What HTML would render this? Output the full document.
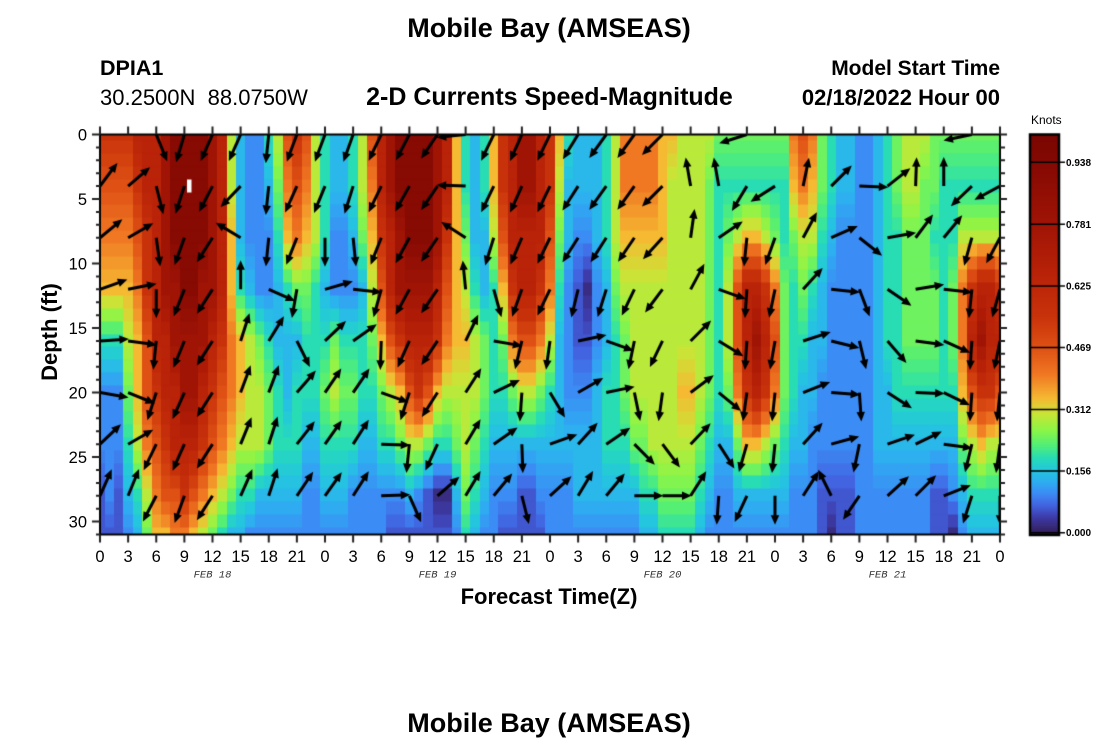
<!DOCTYPE html>
<html><head><meta charset="utf-8">
<style>
html,body{margin:0;padding:0;background:#fff;}
#wrap{position:relative;width:1100px;height:750px;overflow:hidden;background:#fff;}
canvas{position:absolute;left:0;top:0;}
svg{position:absolute;left:0;top:0;}
text{font-family:"Liberation Sans",Arial,sans-serif;fill:#000;}
.b{font-weight:bold;}
.xt{font-size:16.5px;text-anchor:middle;}
.yt{font-size:16.5px;text-anchor:end;}
.feb{font-family:"Liberation Mono",monospace;font-style:italic;font-size:10.5px;fill:#333;text-anchor:middle;}
.cb{font-size:10px;font-weight:bold;}
</style></head><body>
<div id="wrap">
<canvas id="c" width="1100" height="750"></canvas>
<svg width="1100" height="750" viewBox="0 0 1100 750">
<text class="b" x="549" y="37" font-size="27" text-anchor="middle">Mobile Bay (AMSEAS)</text>
<text class="b" x="100" y="75" font-size="21.5">DPIA1</text>
<text x="100" y="105" font-size="22" style="white-space:pre">30.2500N  88.0750W</text>
<text class="b" x="549.5" y="105" font-size="25" text-anchor="middle">2-D Currents Speed-Magnitude</text>
<text class="b" x="1000" y="75" font-size="21" text-anchor="end">Model Start Time</text>
<text class="b" x="1000" y="105" font-size="22" text-anchor="end">02/18/2022 Hour 00</text>
<text x="1031" y="124" font-size="12">Knots</text>
<text class="b" font-size="22" text-anchor="middle" transform="translate(57,332) rotate(-90)">Depth (ft)</text>
<text class="b" x="549" y="604" font-size="22" text-anchor="middle">Forecast Time(Z)</text>
<text class="b" x="549" y="732" font-size="27" text-anchor="middle">Mobile Bay (AMSEAS)</text>

<text class="yt" x="87" y="140.5">0</text>
<text class="yt" x="87" y="205">5</text>
<text class="yt" x="87" y="269.5">10</text>
<text class="yt" x="87" y="334">15</text>
<text class="yt" x="87" y="398.5">20</text>
<text class="yt" x="87" y="463">25</text>
<text class="yt" x="87" y="527.5">30</text>

<text class="xt" x="100" y="562">0</text>
<text class="xt" x="128.1" y="562">3</text>
<text class="xt" x="156.25" y="562">6</text>
<text class="xt" x="184.4" y="562">9</text>
<text class="xt" x="212.5" y="562">12</text>
<text class="xt" x="240.6" y="562">15</text>
<text class="xt" x="268.75" y="562">18</text>
<text class="xt" x="296.9" y="562">21</text>
<text class="xt" x="325" y="562">0</text>
<text class="xt" x="353.1" y="562">3</text>
<text class="xt" x="381.25" y="562">6</text>
<text class="xt" x="409.4" y="562">9</text>
<text class="xt" x="437.5" y="562">12</text>
<text class="xt" x="465.6" y="562">15</text>
<text class="xt" x="493.75" y="562">18</text>
<text class="xt" x="521.9" y="562">21</text>
<text class="xt" x="550" y="562">0</text>
<text class="xt" x="578.1" y="562">3</text>
<text class="xt" x="606.25" y="562">6</text>
<text class="xt" x="634.4" y="562">9</text>
<text class="xt" x="662.5" y="562">12</text>
<text class="xt" x="690.6" y="562">15</text>
<text class="xt" x="718.75" y="562">18</text>
<text class="xt" x="746.9" y="562">21</text>
<text class="xt" x="775" y="562">0</text>
<text class="xt" x="803.1" y="562">3</text>
<text class="xt" x="831.25" y="562">6</text>
<text class="xt" x="859.4" y="562">9</text>
<text class="xt" x="887.5" y="562">12</text>
<text class="xt" x="915.6" y="562">15</text>
<text class="xt" x="943.75" y="562">18</text>
<text class="xt" x="971.9" y="562">21</text>
<text class="xt" x="1000" y="562">0</text>

<text class="feb" x="212.5" y="577.5">FEB 18</text>
<text class="feb" x="437.5" y="577.5">FEB 19</text>
<text class="feb" x="662.5" y="577.5">FEB 20</text>
<text class="feb" x="887.5" y="577.5">FEB 21</text>

<text class="cb" x="1066" y="166">0.938</text>
<text class="cb" x="1066" y="228">0.781</text>
<text class="cb" x="1066" y="289.5">0.625</text>
<text class="cb" x="1066" y="351">0.469</text>
<text class="cb" x="1066" y="413">0.312</text>
<text class="cb" x="1066" y="474.5">0.156</text>
<text class="cb" x="1066" y="536">0.000</text>
</svg>
</div>
<script>
(function(){
const cv=document.getElementById('c'),ctx=cv.getContext('2d');
const X0=100,X1=1000,Y0=134.5,Y1=534.5,PH=9.375,PF=400/31;
const cols=["kjiheccbb","kjihecccb","kjiheccbb","kjihgfedc","lkjihhged","llkkjjigf","lllllkjih","mmmmllkjh","nnnmmllji","nnnnmmlki",
"nnnnmmljh","nnnmmlkig","mmmmlkjhf","llllkjige","gghhiihfd","dddehhged","cccdgggec","ccccfggdc","edcceffdc","gfeddeedc",
"jiheddedc","kjifdeedc","jihfeedcc","gggeeedcc","eeedefedc","ddccfgedc","ddccefedc","eedcefecc","ggfdeedcc","jihgfedcc",
"llkjhfecc","mmlljgecb","nnmmkhfcb","nnnmljgdb","nnnmlkgcb","nnnmljfbb","mmmlkheab","llkjigeab","hhhhhgfdc","eefghggfe",
"dddeggfed","eeddffedc","hhgeeedcc","kkjhfedcb","lllkifdcb","mmlljgdbb","mmlljgdbb","lllkifdcb","kkjigedcc","hgfedddcc",
"eddcccdcc","ddcbbcddc","ddcabcddc","dddccdddc","eeeddeedc","gggfeeedc","iihgffedc","iihgggfdc","iihgggfed","iihgggged",
"hhhggggfe","hggggggfe","ggggghgfe","ggggghgfe","ggggggfed","gfffffedc","feeeeedcc","fefggfdcc","fegjjifdc","fehllkhdc",
"fehlmlhdc","fegklkgdc","fefijifdc","feefffedc","ihfeeedcc","jigfeddcc","ihgeddccc","ffeddccbb","eedccccba","ddcccccbb",
"ddcccccbb","ccccccccc","ccccccccc","dddddddcc","eeeeeddcc","ffeeeedcc","ggfffedcc","ggfffedcc","gffffedcc","ffeffedbb",
"feeeeedbb","feeffedca","fegiihfdc","fegkljged","feglmkhed","fegllkged","fegkljged"];
const sv={a:0.02,b:0.06,c:0.10,d:0.14,e:0.19,f:0.24,g:0.29,h:0.34,i:0.40,j:0.47,k:0.55,l:0.65,m:0.78,n:0.92};
const rowD=[0,4,8,12,16,20,24,28,31];
function val(i,d){const s=cols[i];let k=0;while(k<rowD.length-2&&d>rowD[k+1])k++;const t=(d-rowD[k])/(rowD[k+1]-rowD[k]);return sv[s[k]]*(1-t)+sv[s[k+1]]*t;}
const ST=[[0,50,30,90],[0.04,62,60,170],[0.07,66,100,225],[0.1,60,140,245],[0.13,45,175,240],[0.16,35,200,220],[0.19,40,220,180],[0.22,80,238,120],[0.26,140,245,70],[0.3,200,230,55],[0.34,245,185,50],[0.4,240,120,35],[0.47,222,80,20],[0.55,200,50,10],[0.65,185,35,8],[0.78,160,20,5],[0.92,135,10,3],[1.02,120,5,2]];
function cmap(v){if(v<0)v=0;if(v>1.02)v=1.02;for(let k=0;k<ST.length-1;k++){if(v<=ST[k+1][0]){const a=ST[k],b=ST[k+1],t=(v-a[0])/(b[0]-a[0]);return 'rgb('+Math.round(a[1]+(b[1]-a[1])*t)+','+Math.round(a[2]+(b[2]-a[2])*t)+','+Math.round(a[3]+(b[3]-a[3])*t)+')';}}return 'rgb(120,5,2)';}
for(let i=0;i<=96;i++){
  const xa=Math.round(Math.max(X0,X0+(i-0.5)*PH)),xb=Math.round(Math.min(X1,X0+(i+0.5)*PH));
  for(let j=0;j<=31;j++){
    const ya=Math.round(Math.max(Y0,Y0+(j-0.5)*PF)),yb=Math.round(Math.min(Y1,Y0+(j+0.5)*PF));
    ctx.fillStyle=cmap(val(i,j));ctx.fillRect(xa,ya-0.5,xb-xa,yb-ya+0.5);
  }
}
ctx.fillStyle='#fff';ctx.fillRect(187,179.5,4.5,13);
const A=[
[0,[18,-24],[23,-19],[28,-10],[30,-2],[29,5],[22,-21],[12,-27]],
[0,[22,-19],[26,-15],[30,-6],[29,4],[27,11],[26,-15],[11,-27]],
[[11,27],[7,28],[4,29],[0,29],[-3,29],[-9,28],[-13,27],[-14,27]],
[[-8,27],[-9,28],[-10,28],[-11,28],[-11,27],[-12,27],[-12,27],[-10,28]],
[[-12,27],[-14,27],[-16,25],[-16,25],[-16,25],[-16,25],[-16,25],[-16,25]],
[[-12,27],[-20,21],[-25,-15],[0,-30],[9,-28],[10,-27],[11,-27],[12,-27]],
[[-3,29],[-3,29],[-3,30],[27,12],[16,-26],[10,-27],[9,-28],[9,-28]],
[[-10,27],[-12,27],[-11,28],[-5,29],[13,26],[19,-22],[18,-23],[17,-25]],
[[-10,27],[-11,27],[0,30],[28,-8],[21,-20],[17,-25],[17,-24],[17,-24]],
[[-10,28],[-9,29],[3,30],[29,3],[24,-17],[17,-25],[16,-25],[16,-25]],
[[-13,27],[-13,27],[-11,28],[-8,29],[-1,30],[28,10],[30,1],[29,-1]],
[[-14,27],[-14,25],[-14,26],[-14,26],[-12,27],[-9,28],[-3,29],[12,27]],
[[-17,25],[-17,25],[-17,25],[-17,25],[-16,24],[-16,25],[-12,26],[22,-19]],
[[-29,3],[-29,-1],[-25,-16],[-3,-30],[13,-27],[16,-25],[15,-25],[15,-25]],
[[-13,27],[-13,27],[-9,29],[8,29],[29,5],[27,-13],[23,-16],[19,-23]],
[[-12,27],[-12,27],[-12,28],[-10,28],[-7,29],[-2,29],[1,29],[7,28]],
[[-13,27],[-13,27],[-13,27],[-13,27],[-4,29],[15,25],[28,-10],[22,-20]],
[[-16,26],[-16,25],[-16,25],[-7,29],[29,-6],[26,-15],[20,-22],[15,-25]],
[[-18,25],[-18,25],[-16,25],[-9,29],[28,10],[29,-6],[25,-17],[19,-23]],
[[-18,25],[-18,25],[-17,25],[-13,27],[-6,29],[6,29],[21,21],[28,0]],
[[-21,21],[-21,21],[-20,22],[-18,24],[-13,27],[-4,29],[18,24],[28,0]],
[0,[-5,-29],[4,-29],[14,-26],[21,-21],[24,-18],[21,-22],[16,-25]],
[0,[-5,-29],[25,-17],[28,10],[26,16],[23,19],[16,25],[-2,29]],
[[-28,9],[-15,25],[-3,30],[-2,30],[-2,30],[-4,29],[-8,28],[-12,26]],
[0,[-25,16],[-10,28],[-6,29],[-5,29],[-3,29],[-3,29],[0,29]],
[0,[6,-29],[14,-26],[20,-22],[28,-9],[28,-11],[20,-22],[16,-25]],
[0,[21,-21],[27,-12],[29,3],[28,7],[28,2],[29,-8],[-13,-26]],
[0,[28,1],[24,19],[11,29],[7,29],[2,29],[-6,29],[-17,25]],
[0,[23,-18],[29,-5],[25,17],[19,22],[25,16],[29,-10],[22,-20]],
[0,[1,-30],[18,-24],[29,-5],[29,4],[28,1],[27,-13],[21,-21]],
[0,[0,-30],[19,-23],[28,3],[27,12],[27,13],[29,4],[28,-11]],
[[-28,6],[-22,21],[-8,29],[-3,29],[-2,30],[-2,29],[-7,29],[-9,28]],
[0,[-26,14],[-14,26],[-8,29],[-6,29],[-3,29],[-4,29],[0,29]]
];
ctx.save();ctx.beginPath();ctx.rect(X0,Y0,X1-X0,Y1-Y0);ctx.clip();
ctx.strokeStyle='#000';ctx.fillStyle='#000';ctx.lineWidth=3;ctx.lineCap='butt';
for(let c=0;c<A.length;c++){for(let r=0;r<8;r++){const a=A[c][r];if(!a)continue;
  const x=X0+c*28.125,y=Y0+r*4*PF;const L=Math.hypot(a[0],a[1]);const ux=a[0]/L,uy=a[1]/L;
  const len=29,hx=x+ux*len,hy=y+uy*len;
  ctx.beginPath();ctx.moveTo(x,y);ctx.lineTo(hx-ux*6,hy-uy*6);ctx.stroke();
  const bx=hx-ux*9.5,by=hy-uy*9.5,px=-uy,py=ux;
  ctx.beginPath();ctx.moveTo(hx,hy);ctx.lineTo(bx+px*4.2,by+py*4.2);ctx.lineTo(bx-px*4.2,by-py*4.2);ctx.closePath();ctx.fill();
}}
ctx.restore();
ctx.strokeStyle='#000';ctx.lineWidth=2;
ctx.strokeRect(X0,Y0,X1-X0,Y1-Y0);
ctx.lineWidth=2;ctx.strokeStyle='#222';
ctx.beginPath();
for(let k=0;k<=32;k++){const x=X0+k*28.125;ctx.moveTo(x,Y1);ctx.lineTo(x,Y1+8);ctx.moveTo(x,Y0);ctx.lineTo(x,Y0-8);}
for(let d=0;d<=31;d++){const y=Y0+d*PF;const l=(d%5===0)?8:4;ctx.moveTo(X0-l,y);ctx.lineTo(X0,y);ctx.moveTo(X1,y);ctx.lineTo(X1+((d%5===0)?7:5),y);}
ctx.stroke();
const CX=1030,CW=29;
for(let y=135;y<535;y++){const v=(532.7-(y+0.5))/394.9;ctx.fillStyle=cmap(v);ctx.fillRect(CX,y,CW,1);}
ctx.strokeStyle='#000';ctx.lineWidth=1.5;
ctx.beginPath();
[0.938,0.781,0.625,0.469,0.312,0.156,0.0].forEach(function(v){const y=532.7-v*394.9;ctx.moveTo(CX,y);ctx.lineTo(CX+CW+6,y);});
ctx.stroke();
ctx.lineWidth=2.5;ctx.strokeRect(CX,134.5,CW,400.5);
})();
</script>
</body></html>
